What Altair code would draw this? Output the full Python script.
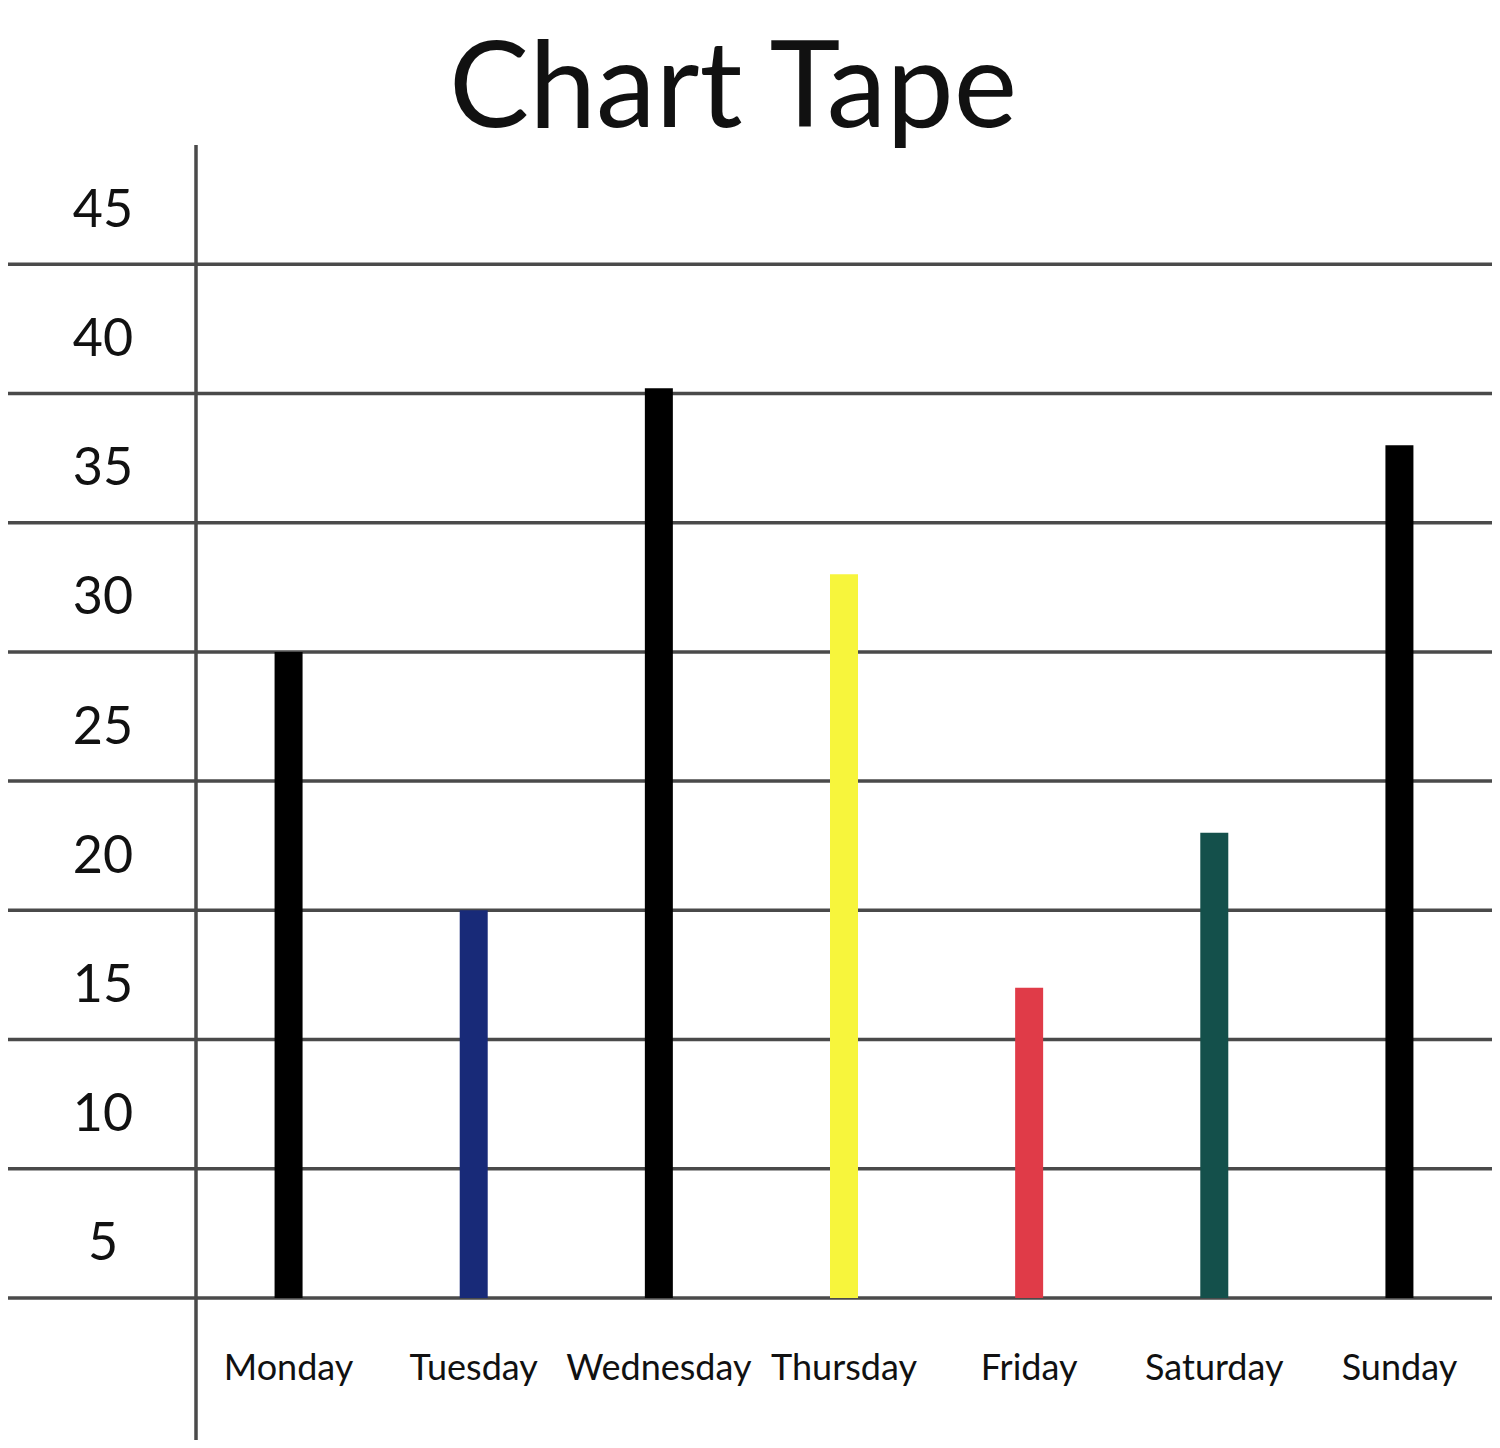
import altair as alt
import pandas as pd

# ---- data ----
days = ["Monday", "Tuesday", "Wednesday", "Thursday", "Friday", "Saturday", "Sunday"]
values = [25, 15, 35.2, 28, 12, 18, 33]
bar_colors = ["#000000", "#182a78", "#000000", "#f7f53c", "#e03b48", "#14504b", "#000000"]
grid_values = [0, 5, 10, 15, 20, 25, 30, 35, 40]
band_labels = [5, 10, 15, 20, 25, 30, 35, 40, 45]
title_text = "Chart Tape"

FONT = "Lato"
LINE = "#4a4a4a"
W, H = 1296, 1163

bars_df = pd.DataFrame({"day": days, "value": values})
grid_df = pd.DataFrame({"v": grid_values})
lab_df = pd.DataFrame({"label": band_labels})
title_df = pd.DataFrame({"t": [title_text]})

yscale = alt.Scale(domain=[0, 45], nice=False, zero=True)

grid = alt.Chart(grid_df).mark_rule(color=LINE, strokeWidth=3.5).encode(
    y=alt.Y("v:Q", scale=yscale, axis=None),
    x=alt.value(-188),
    x2=alt.value(W),
)

vline = alt.Chart(grid_df.head(1)).mark_rule(color=LINE, strokeWidth=3.5).encode(
    x=alt.value(0),
    y=alt.value(10),
    y2=alt.value(1310),
)

ylabels = alt.Chart(lab_df).transform_calculate(
    pos="datum.label - 2.5"
).mark_text(align="center", baseline="middle", fontSize=52, font=FONT, color="#111111", dy=11).encode(
    y=alt.Y("pos:Q", scale=yscale, axis=None),
    x=alt.value(-93),
    text=alt.Text("label:Q"),
)

bars = alt.Chart(bars_df).mark_bar(size=28).encode(
    x=alt.X(
        "day:N",
        sort=days,
        scale=alt.Scale(paddingInner=0, paddingOuter=0),
        axis=alt.Axis(
            title=None, domain=False, ticks=False, grid=False, labelAngle=0,
            labelFontSize=36, labelFont=FONT, labelColor="#111111",
            labelPadding=53, labelLimit=0,
        ),
    ),
    y=alt.Y("value:Q", scale=yscale, axis=None),
    color=alt.Color("day:N", scale=alt.Scale(domain=days, range=bar_colors), legend=None),
)

title = alt.Chart(title_df).mark_text(
    align="center", baseline="alphabetic", fontSize=120, font=FONT, color="#111111"
).encode(
    text="t:N",
    x=alt.value(537),
    y=alt.value(-8),
)

chart = alt.layer(grid, vline, bars, ylabels, title).properties(
    width=W,
    height=H,
    autosize=alt.AutoSizeParams(type="none"),
    padding={"left": 188, "top": 127, "right": 0, "bottom": 142},
    background="white",
).configure_view(stroke=None)

chart.save("out.html", embed_options={"renderer": "svg", "actions": False})
